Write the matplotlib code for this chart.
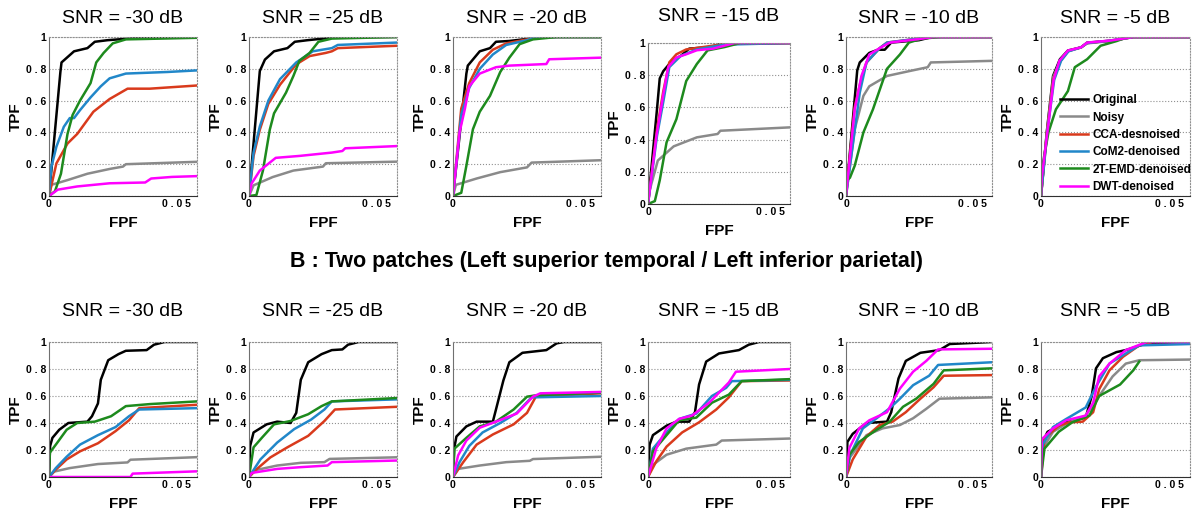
import numpy as np
import matplotlib.pyplot as plt

plt.rcParams['font.family'] = ['Liberation Sans', 'DejaVu Sans']

methods = ['Original', 'Noisy', 'CCA-desnoised', 'CoM2-denoised',
           '2T-EMD-denoised', 'DWT-denoised']
colors = ['black', '#8a8a8a', '#d93a1c', '#2187c9', '#1d8a1d', '#ff00ff']
snr_labels = ['SNR = -30 dB', 'SNR = -25 dB', 'SNR = -20 dB',
              'SNR = -15 dB', 'SNR = -10 dB', 'SNR = -5 dB']
heading_b = 'B : Two patches (Left superior temporal / Left inferior parietal)'
y_ticks = [0, 0.2, 0.4, 0.6, 0.8, 1]
y_ticklabels = ['0', '0 . 2', '0 . 4', '0 . 6', '0 . 8', '1']
x_ticks = [0, 0.05]
x_ticklabels = ['0', '0 . 0 5']

# ROC curves: (FPF x 1e-3, TPF) points per method
# --- A : single patch ---
a_m30 = {
    'Original': [(0, 0), (4.0, 0.78), (4.4, 0.84), (8.8, 0.91), (13.5, 0.93), (16.1, 0.97), (20.6, 0.98), (35.4, 1.0), (52, 1.0)],
    'Noisy': [(0, 0), (0.8, 0.07), (6.5, 0.10), (13.5, 0.14), (21.3, 0.17), (26.0, 0.185), (27.0, 0.20), (35.4, 0.205), (52, 0.215)],
    'CCA-desnoised': [(0, 0), (2.6, 0.205), (6.5, 0.33), (9.9, 0.39), (15.6, 0.53), (21.3, 0.61), (27.6, 0.675), (35.4, 0.675), (52, 0.695)],
    'CoM2-denoised': [(0, 0), (0.8, 0.18), (2.6, 0.31), (5.2, 0.435), (7.3, 0.49), (8.8, 0.49), (10.9, 0.54), (14.6, 0.62), (18.2, 0.69), (21.3, 0.74), (27.0, 0.77), (41.6, 0.78), (52, 0.79)],
    '2T-EMD-denoised': [(0, 0), (2.1, 0.03), (4.2, 0.14), (6.5, 0.39), (8.3, 0.51), (10.9, 0.60), (14.6, 0.71), (16.6, 0.84), (19.2, 0.90), (22.4, 0.96), (27.0, 0.985), (52, 0.995)],
    'DWT-denoised': [(0, 0), (3.1, 0.04), (9.9, 0.06), (21.3, 0.08), (33.8, 0.085), (35.9, 0.11), (43.2, 0.12), (52, 0.125)],
}
a_m25 = {
    'Original': [(0, 0), (3.8, 0.786), (5.6, 0.858), (8.8, 0.91), (13.5, 0.93), (16.1, 0.97), (20.6, 0.98), (31.7, 1.0), (52, 1.0)],
    'Noisy': [(0, 0), (1.6, 0.067), (8.3, 0.119), (15.6, 0.16), (26.0, 0.185), (27.0, 0.206), (52, 0.216)],
    'CCA-desnoised': [(0, 0), (1.6, 0.252), (3.8, 0.417), (6.8, 0.58), (10.9, 0.70), (16.6, 0.828), (21.3, 0.88), (27.0, 0.90), (29.1, 0.91), (31.2, 0.93), (52, 0.945)],
    'CoM2-denoised': [(0, 0), (1.6, 0.273), (3.8, 0.437), (6.8, 0.60), (10.9, 0.735), (16.6, 0.84), (22.4, 0.91), (29.1, 0.93), (31.2, 0.95), (52, 0.965)],
    '2T-EMD-denoised': [(0, 0), (2.6, 0.006), (4.9, 0.16), (7.3, 0.417), (8.8, 0.52), (13.0, 0.65), (15.6, 0.755), (17.7, 0.85), (21.3, 0.90), (24.4, 0.97), (29.1, 0.99), (52, 1.0)],
    'DWT-denoised': [(0, 0), (0.9, 0.078), (3.8, 0.16), (9.4, 0.24), (17.7, 0.252), (29.1, 0.273), (32.8, 0.283), (33.8, 0.30), (52, 0.314)],
}
a_m20 = {
    'Original': [(0, 0), (4.7, 0.77), (5.2, 0.82), (9.4, 0.91), (13.0, 0.93), (15.1, 0.97), (19.8, 0.975), (27.0, 0.99), (33.8, 1.0), (52, 1.0)],
    'Noisy': [(0, 0), (1.0, 0.07), (8.3, 0.11), (16.6, 0.15), (26.0, 0.18), (27.6, 0.21), (52, 0.225)],
    'CCA-desnoised': [(0, 0), (2.9, 0.55), (5.7, 0.71), (9.4, 0.84), (14.0, 0.92), (18.7, 0.96), (26.0, 0.985), (31.2, 1.0), (52, 1.0)],
    'CoM2-denoised': [(0, 0), (2.9, 0.51), (5.7, 0.68), (9.4, 0.80), (14.0, 0.89), (18.7, 0.95), (26.0, 0.98), (29.1, 1.0), (52, 1.0)],
    '2T-EMD-denoised': [(0, 0), (2.9, 0.02), (4.7, 0.19), (7.0, 0.42), (9.4, 0.53), (13.0, 0.63), (16.6, 0.78), (19.8, 0.87), (23.4, 0.955), (28.1, 0.985), (36.4, 1.0), (52, 1.0)],
    'DWT-denoised': [(0, 0), (2.3, 0.40), (4.2, 0.55), (5.7, 0.69), (9.4, 0.77), (15.1, 0.81), (19.8, 0.82), (32.8, 0.83), (33.8, 0.86), (52, 0.87)],
}
a_m15 = {
    'Original': [(0, 0), (3.3, 0.59), (4.3, 0.78), (5.6, 0.825), (8.8, 0.89), (12.0, 0.92), (15.1, 0.965), (22.9, 0.975), (26.5, 0.995), (52, 1.0)],
    'Noisy': [(0, 0), (0.6, 0.085), (3.6, 0.27), (9.4, 0.358), (17.9, 0.414), (25.5, 0.435), (26.5, 0.455), (52, 0.476)],
    'CCA-desnoised': [(0, 0), (3.3, 0.465), (5.6, 0.70), (7.8, 0.88), (10.4, 0.93), (14.0, 0.96), (26.5, 0.99), (31.2, 1.0), (52, 1.0)],
    'CoM2-denoised': [(0, 0), (3.3, 0.424), (5.6, 0.635), (7.8, 0.85), (12.0, 0.92), (17.9, 0.96), (28.1, 0.99), (52, 1.0)],
    '2T-EMD-denoised': [(0, 0), (2.5, 0.018), (4.3, 0.147), (6.8, 0.383), (10.4, 0.527), (14.0, 0.764), (17.9, 0.87), (21.8, 0.954), (28.1, 0.975), (33.8, 1.0), (52, 1.0)],
    'DWT-denoised': [(0, 0), (3.1, 0.424), (5.6, 0.68), (7.4, 0.85), (10.4, 0.91), (14.0, 0.93), (17.9, 0.955), (23.9, 0.965), (31.7, 1.0), (52, 1.0)],
}
a_m10 = {
    'Original': [(0, 0), (4.0, 0.79), (4.9, 0.84), (8.3, 0.90), (11.4, 0.92), (13.8, 0.92), (16.1, 0.965), (26.0, 0.98), (30.7, 1.0), (52, 1.0)],
    'Noisy': [(0, 0), (3.1, 0.42), (6.2, 0.63), (8.3, 0.69), (14.6, 0.755), (22.4, 0.785), (29.1, 0.81), (30.2, 0.84), (52, 0.85)],
    'CCA-desnoised': [(0, 0), (3.1, 0.56), (5.2, 0.72), (7.3, 0.84), (12.0, 0.93), (14.6, 0.965), (30.2, 1.0), (52, 1.0)],
    'CoM2-denoised': [(0, 0), (4.9, 0.65), (7.3, 0.84), (12.0, 0.93), (14.6, 0.965), (30.2, 1.0), (52, 1.0)],
    '2T-EMD-denoised': [(0, 0), (0.4, 0.10), (1.4, 0.115), (3.1, 0.19), (6.2, 0.40), (9.6, 0.545), (14.6, 0.80), (19.2, 0.89), (22.4, 0.965), (27.0, 0.99), (33.8, 1.0), (52, 1.0)],
    'DWT-denoised': [(0, 0), (3.1, 0.545), (5.5, 0.755), (8.3, 0.89), (12.0, 0.93), (15.6, 0.965), (25.0, 0.985), (31.2, 1.0), (52, 1.0)],
}
a_m5 = {
    'Original': [(0, 0), (2.0, 0.40), (4.2, 0.755), (6.6, 0.86), (9.4, 0.915), (14.0, 0.935), (16.1, 0.965), (24.4, 0.975), (32.2, 1.0), (52, 1.0)],
    'Noisy': [(0, 0), (2.1, 0.41), (4.3, 0.75), (6.8, 0.855), (9.4, 0.91), (14.0, 0.935), (16.1, 0.96), (24.4, 0.975), (32.2, 1.0), (52, 1.0)],
    'CCA-desnoised': [(0, 0), (2.2, 0.42), (4.4, 0.74), (6.8, 0.85), (9.4, 0.912), (14.0, 0.935), (16.1, 0.962), (24.4, 0.978), (32.2, 1.0), (52, 1.0)],
    'CoM2-denoised': [(0, 0), (2.3, 0.42), (4.6, 0.73), (7.0, 0.85), (9.6, 0.91), (14.0, 0.935), (16.1, 0.962), (24.4, 0.978), (32.2, 1.0), (52, 1.0)],
    '2T-EMD-denoised': [(0, 0), (0.5, 0.19), (2.6, 0.40), (5.2, 0.545), (9.4, 0.66), (11.8, 0.81), (16.1, 0.86), (20.8, 0.945), (26.5, 0.975), (30.2, 1.0), (52, 1.0)],
    'DWT-denoised': [(0, 0), (0.3, 0.12), (2.5, 0.44), (4.4, 0.73), (6.4, 0.85), (9.4, 0.915), (14.0, 0.935), (16.1, 0.965), (24.4, 0.978), (32.2, 1.0), (52, 1.0)],
}

# --- B : two patches ---
b_m30 = {
    'Original': [(0, 0), (0.4, 0.23), (1.2, 0.29), (3.6, 0.35), (6.8, 0.40), (13.5, 0.41), (15.1, 0.45), (17.2, 0.545), (18.2, 0.72), (20.8, 0.865), (24.4, 0.91), (27.0, 0.935), (34.3, 0.94), (36.9, 0.98), (40.6, 1.0), (52, 1.0)],
    'Noisy': [(0, 0), (1.8, 0.04), (7.3, 0.066), (17.2, 0.096), (27.6, 0.108), (28.6, 0.128), (52, 0.147)],
    'CCA-desnoised': [(0, 0), (2.4, 0.055), (6.2, 0.13), (10.9, 0.19), (17.2, 0.25), (23.4, 0.34), (28.1, 0.42), (31.7, 0.51), (52, 0.535)],
    'CoM2-denoised': [(0, 0), (2.4, 0.066), (6.2, 0.15), (10.9, 0.24), (17.2, 0.31), (23.4, 0.37), (28.1, 0.45), (31.7, 0.50), (52, 0.51)],
    '2T-EMD-denoised': [(0, 0), (0.3, 0.18), (2.4, 0.24), (6.2, 0.35), (9.9, 0.40), (16.1, 0.41), (21.8, 0.45), (27.0, 0.525), (35.4, 0.54), (52, 0.56)],
    'DWT-denoised': [(0, 0), (28.6, 0.0), (29.4, 0.025), (52, 0.042)],
}
b_m25 = {
    'Original': [(0, 0), (0.4, 0.23), (1.6, 0.33), (6.2, 0.39), (9.9, 0.41), (14.6, 0.40), (16.6, 0.475), (18.2, 0.72), (20.8, 0.85), (25.5, 0.91), (29.1, 0.94), (32.8, 0.945), (34.8, 0.98), (38.5, 1.0), (52, 1.0)],
    'Noisy': [(0, 0), (2.1, 0.05), (9.9, 0.085), (18.2, 0.105), (26.5, 0.11), (28.3, 0.134), (52, 0.146)],
    'CCA-desnoised': [(0, 0), (2.8, 0.06), (7.5, 0.145), (13.5, 0.22), (20.8, 0.305), (26.5, 0.415), (30.2, 0.50), (52, 0.52)],
    'CoM2-denoised': [(0, 0), (4.0, 0.13), (9.9, 0.255), (15.9, 0.355), (21.8, 0.425), (26.5, 0.50), (29.1, 0.56), (52, 0.575)],
    '2T-EMD-denoised': [(0, 0), (1.6, 0.22), (4.5, 0.29), (8.8, 0.39), (14.6, 0.415), (20.8, 0.465), (25.5, 0.525), (29.1, 0.56), (52, 0.585)],
    'DWT-denoised': [(0, 0), (0.9, 0.03), (9.9, 0.06), (18.2, 0.073), (27.6, 0.085), (29.1, 0.11), (52, 0.122)],
}
b_m20 = {
    'Original': [(0, 0), (0.4, 0.21), (1.2, 0.30), (4.7, 0.375), (8.3, 0.41), (14.0, 0.41), (15.1, 0.50), (17.7, 0.715), (19.8, 0.85), (24.4, 0.92), (32.8, 0.94), (36.4, 0.99), (39.0, 1.0), (52, 1.0)],
    'Noisy': [(0, 0), (1.8, 0.06), (9.4, 0.085), (18.7, 0.11), (27.0, 0.12), (28.1, 0.133), (52, 0.15)],
    'CCA-desnoised': [(0, 0), (3.6, 0.11), (8.3, 0.24), (14.0, 0.315), (21.3, 0.39), (26.0, 0.475), (29.1, 0.595), (52, 0.62)],
    'CoM2-denoised': [(0, 0), (2.3, 0.11), (5.7, 0.23), (10.4, 0.33), (16.6, 0.40), (22.4, 0.475), (27.6, 0.59), (52, 0.60)],
    '2T-EMD-denoised': [(0, 0), (0.5, 0.21), (4.7, 0.29), (9.4, 0.375), (15.1, 0.41), (21.3, 0.50), (26.0, 0.595), (29.1, 0.605), (52, 0.625)],
    'DWT-denoised': [(0, 0), (1.8, 0.16), (4.7, 0.27), (9.4, 0.365), (15.1, 0.41), (22.4, 0.47), (28.1, 0.595), (30.7, 0.62), (52, 0.63)],
}
b_m15 = {
    'Original': [(0, 0), (0.6, 0.24), (1.8, 0.31), (6.8, 0.38), (10.4, 0.41), (15.1, 0.41), (17.2, 0.48), (18.7, 0.685), (21.3, 0.855), (26.0, 0.915), (33.3, 0.94), (36.9, 0.98), (40.6, 1.0), (52, 1.0)],
    'Noisy': [(0, 0), (1.8, 0.09), (6.8, 0.165), (14.0, 0.21), (25.0, 0.24), (27.0, 0.27), (52, 0.285)],
    'CCA-desnoised': [(0, 0), (3.0, 0.115), (6.8, 0.225), (12.5, 0.33), (18.7, 0.405), (25.0, 0.50), (29.6, 0.59), (34.3, 0.71), (52, 0.715)],
    'CoM2-denoised': [(0, 0), (1.8, 0.21), (6.8, 0.33), (11.4, 0.43), (17.7, 0.47), (23.4, 0.60), (28.6, 0.66), (30.7, 0.71), (52, 0.72)],
    '2T-EMD-denoised': [(0, 0), (1.8, 0.19), (6.8, 0.31), (11.4, 0.42), (17.7, 0.44), (23.4, 0.55), (29.6, 0.61), (34.3, 0.71), (52, 0.725)],
    'DWT-denoised': [(0, 0), (3.0, 0.21), (6.8, 0.36), (11.4, 0.43), (16.1, 0.455), (22.4, 0.55), (26.0, 0.625), (29.6, 0.70), (32.2, 0.78), (52, 0.80)],
}
b_m10 = {
    'Original': [(0, 0), (0.5, 0.26), (2.4, 0.32), (7.3, 0.40), (14.6, 0.41), (16.1, 0.48), (18.7, 0.73), (21.3, 0.86), (26.5, 0.92), (33.3, 0.94), (36.9, 0.985), (52, 1.0)],
    'Noisy': [(0, 0), (1.2, 0.14), (7.3, 0.31), (13.0, 0.36), (19.2, 0.385), (23.9, 0.435), (28.6, 0.505), (33.3, 0.58), (52, 0.59)],
    'CCA-desnoised': [(0, 0), (2.4, 0.13), (7.3, 0.30), (12.0, 0.385), (16.6, 0.41), (21.3, 0.48), (26.5, 0.58), (31.2, 0.665), (34.8, 0.75), (52, 0.755)],
    'CoM2-denoised': [(0, 0), (1.5, 0.165), (6.0, 0.36), (10.9, 0.435), (15.6, 0.51), (19.2, 0.58), (23.9, 0.68), (29.6, 0.75), (32.8, 0.83), (52, 0.85)],
    '2T-EMD-denoised': [(0, 0), (1.2, 0.165), (4.7, 0.26), (10.9, 0.35), (15.6, 0.41), (20.3, 0.52), (25.0, 0.58), (31.2, 0.69), (34.8, 0.79), (52, 0.805)],
    'DWT-denoised': [(0, 0), (1.2, 0.215), (4.7, 0.36), (8.3, 0.42), (14.6, 0.48), (19.2, 0.655), (23.9, 0.78), (28.6, 0.86), (32.8, 0.945), (52, 0.95)],
}
b_m5 = {
    'Original': [(0, 0), (0.6, 0.26), (2.3, 0.335), (8.8, 0.405), (15.6, 0.44), (17.7, 0.60), (19.2, 0.805), (21.6, 0.88), (26.3, 0.925), (29.6, 0.94), (36.9, 0.99), (52, 1.0)],
    'Noisy': [(0, 0), (0.6, 0.21), (4.2, 0.335), (8.8, 0.395), (15.6, 0.455), (20.3, 0.60), (25.0, 0.745), (29.6, 0.84), (34.3, 0.865), (52, 0.87)],
    'CCA-desnoised': [(0, 0), (1.2, 0.285), (6.2, 0.38), (9.9, 0.405), (14.6, 0.41), (18.2, 0.48), (20.3, 0.65), (23.9, 0.79), (28.6, 0.89), (34.3, 0.975), (39.0, 1.0), (52, 1.0)],
    'CoM2-denoised': [(0, 0), (0.6, 0.24), (4.2, 0.37), (8.8, 0.43), (15.6, 0.515), (19.2, 0.67), (23.9, 0.84), (29.6, 0.915), (34.3, 0.975), (52, 0.985)],
    '2T-EMD-denoised': [(0, 0), (1.2, 0.21), (6.2, 0.335), (10.9, 0.405), (16.9, 0.455), (20.3, 0.60), (27.6, 0.685), (32.2, 0.79), (34.3, 0.855)],
    'DWT-denoised': [(0, 0), (0.3, 0.28), (4.2, 0.36), (8.8, 0.42), (15.6, 0.455), (18.2, 0.55), (20.3, 0.745), (23.9, 0.84), (29.6, 0.94), (36.9, 1.0), (52, 1.0)],
}

panels_a = [a_m30, a_m25, a_m20, a_m15, a_m10, a_m5]
panels_b = [b_m30, b_m25, b_m20, b_m15, b_m10, b_m5]

W, H = 1200, 519
fig = plt.figure(figsize=(12, 5.19), dpi=100)

# axes placement in pixels
col_left = [49, 249, 453, 648, 846, 1041]
col_width = [148, 148, 148, 142, 146, 149]
row_a_top = [37, 37, 37, 43, 37, 37]
row_a_bottom = [196, 196, 196, 204, 196, 196]


def draw_panel(ax, data, title, title_pad):
    for m, c in zip(methods, colors):
        pts = np.array(data[m])
        ax.plot(pts[:, 0] * 1e-3, pts[:, 1], color=c, lw=1.8, label=m)
    ax.set_xlim(0, 0.052)
    ax.set_ylim(0, 1)
    ax.set_xticks(x_ticks)
    ax.set_xticklabels(x_ticklabels)
    ax.set_yticks(y_ticks)
    ax.set_yticklabels(y_ticklabels)
    ax.tick_params(length=0, labelsize=7.5, pad=2)
    for lab in ax.get_xticklabels() + ax.get_yticklabels():
        lab.set_fontweight('bold')
    ax.get_xticklabels()[-1].set_horizontalalignment('right')
    ax.grid(axis='y', linestyle=':', color='#909090', lw=0.8)
    for s in ['top', 'right']:
        ax.spines[s].set_linestyle(':')
        ax.spines[s].set_color('#909090')
        ax.spines[s].set_linewidth(0.8)
    ax.spines['left'].set_color('#707070')
    ax.spines['bottom'].set_color('#303030')
    ax.set_xlabel('FPF', fontsize=11, fontweight='bold', labelpad=5)
    ax.set_ylabel('TPF', fontsize=11, fontweight='bold', labelpad=2)
    ax.set_title(title, fontsize=14, pad=title_pad)


axes_a = []
for i in range(6):
    h = row_a_bottom[i] - row_a_top[i]
    ax = fig.add_axes([col_left[i] / W, 1 - row_a_bottom[i] / H, col_width[i] / W, h / H])
    draw_panel(ax, panels_a[i], snr_labels[i], 10 + (row_a_top[i] - 37))
    axes_a.append(ax)

for i in range(6):
    ax = fig.add_axes([col_left[i] / W, 1 - 477 / H, col_width[i] / W, 135 / H])
    draw_panel(ax, panels_b[i], snr_labels[i], 19)

fig.text(606 / W, 1 - 262 / H, heading_b, ha='center', va='center',
         fontsize=15.5, fontweight='bold')

axes_a[5].legend(loc='lower left', bbox_to_anchor=(0.13, 0.02),
                 frameon=False, borderaxespad=0, borderpad=0,
                 handlelength=2.3, handletextpad=0.4, labelspacing=0.45,
                 prop={'weight': 'bold', 'size': 8.5})

fig.savefig('out.png', dpi=100)
